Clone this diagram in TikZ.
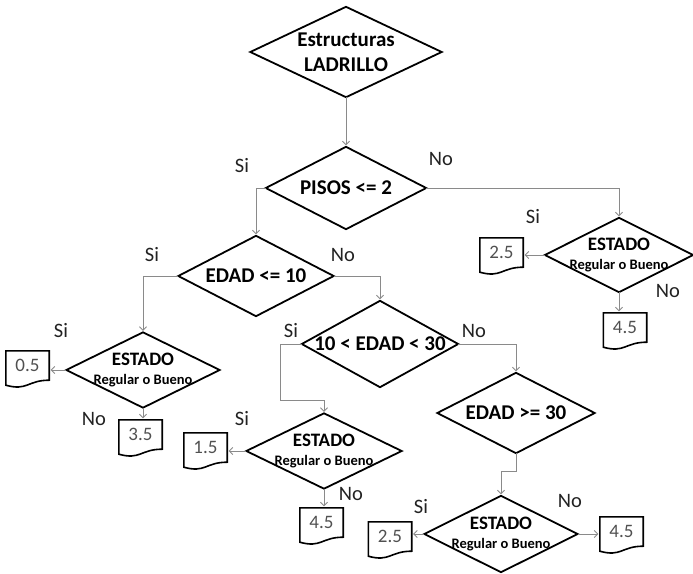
\documentclass[tikz,border=0pt]{standalone}
\usepackage{fontspec}
\setmainfont{Carlito}
\usetikzlibrary{arrows.meta,calc}
\definecolor{conncol}{HTML}{8A8A8A}
\definecolor{labcol}{HTML}{222222}
\definecolor{digcol}{HTML}{505050}
\begin{document}
\begin{tikzpicture}[x=1pt,y=-1pt,
  dia/.style={rectangle,inner sep=0pt,align=center,text=black},
  diaedge/.style={draw=black,line width=1.8pt,line join=miter},
  maintxt/.style={font=\fontsize{21}{24}\selectfont\bfseries},
  conn/.style={draw=conncol,line width=0.9pt,-{Straight Barb[length=3.5pt,width=7pt]},shorten >=1.5pt},
  lab/.style={font=\fontsize{20.5}{23}\selectfont,text=labcol},
  docb/.style={rectangle,minimum width=43pt,minimum height=29pt,inner sep=0pt,
    font=\fontsize{19}{20}\selectfont,text=digcol},
  docline/.style={draw=black,line width=1.6pt}]
\useasboundingbox (0,0) rectangle (693,573);
\newcommand{\estado}{\fontsize{19}{20}\selectfont\bfseries ESTADO\\[7pt]\fontsize{14.5}{15}\selectfont\bfseries Regular o Bueno}

% diamonds (invisible frames, drawn as diamonds below)
\node[dia,maintxt,minimum width=191pt,minimum height=90pt] (d0) at (346,52) {Estructuras\\[1pt]LADRILLO};
\node[dia,maintxt,minimum width=160pt,minimum height=82pt] (d1) at (346,188) {PISOS <= 2};
\node[dia,maintxt,minimum width=155pt,minimum height=80pt] (d2) at (256,276) {EDAD <= 10};
\node[dia,maintxt,minimum width=156pt,minimum height=86pt] (d3) at (380,344) {10 < EDAD < 30};
\node[dia,maintxt,minimum width=157pt,minimum height=80pt] (d4) at (516,413) {EDAD >= 30};
\node[dia,minimum width=153pt,minimum height=75pt] (e1) at (143,370) {\estado};
\node[dia,minimum width=155pt,minimum height=75pt] (e2) at (324,451) {\estado};
\node[dia,minimum width=148pt,minimum height=74pt] (e3) at (619,255) {\estado};
\node[dia,minimum width=153pt,minimum height=76pt] (e4) at (501,534) {\estado};
\foreach \n in {d0,d1,d2,d3,d4,e1,e2,e3,e4}{
  \draw[diaedge] (\n.north) -- (\n.east) -- (\n.south) -- (\n.west) -- cycle;
}

% document boxes
\node[docb] (b05) at (27.5,365.5) {0.5};
\node[docb] (b35) at (140.5,434.5) {3.5};
\node[docb] (b15) at (205.5,447.5) {1.5};
\node[docb] (b45a) at (321.5,522.5) {4.5};
\node[docb] (b25b) at (390,536.5) {2.5};
\node[docb] (b45c) at (621.5,531.5) {4.5};
\node[docb] (b25a) at (501.5,252.5) {2.5};
\node[docb] (b45b) at (625,327.5) {4.5};
\foreach \n in {b05,b35,b15,b45a,b25b,b45c,b25a,b45b}{
  \draw[docline] (\n.north west) -- (\n.north east) -- (\n.south east)
    .. controls (\n.south) and ($(\n.south)+(0,11)$) .. ($(\n.south west)+(0,5)$) -- cycle;
}

% helper coordinates
\coordinate (c1) at (280,400);
\coordinate (c2) at (516,471);

% connectors
\draw[conn] (d0.south) -- (d1.north);
\draw[conn] (d1.west) -| (d2.north);
\draw[conn] (d1.east) -| (e3.north);
\draw[conn] (d2.west) -| (e1.north);
\draw[conn] (d2.east) -| (d3.north);
\draw[conn] (d3.west) -| (c1) -| (e2.north);
\draw[conn] (d3.east) -| (d4.north);
\draw[conn] (d4.south) |- (c2) -| (e4.north);
\draw[conn] (e1.west) -- (e1.west -| b05.east);
\draw[conn] (e1.south) -- (e1.south |- b35.north);
\draw[conn] (e2.west) -- (e2.west -| b15.east);
\draw[conn] (e2.south) -- (e2.south |- b45a.north);
\draw[conn] (e3.west) -- (e3.west -| b25a.east);
\draw[conn] (e3.south) -- (e3.south |- b45b.north);
\draw[conn] (e4.west) -- (e4.west -| b25b.east);
\draw[conn] (e4.east) -- (e4.east -| b45c.west);

% labels
\node[lab] (l1) at (242,166) {Si};
\node[lab] (l2) at (441,159) {No};
\node[lab] (l3) at (152,255) {Si};
\node[lab] (l4) at (343,255) {No};
\node[lab] (l5) at (61,331) {Si};
\node[lab] (l6) at (94,419) {No};
\node[lab] (l7) at (291,331) {Si};
\node[lab] (l8) at (474,331) {No};
\node[lab] (l9) at (242,419) {Si};
\node[lab] (l10) at (351,494) {No};
\node[lab] (l11) at (533,217) {Si};
\node[lab] (l12) at (668,291) {No};
\node[lab] (l13) at (421,507) {Si};
\node[lab] (l14) at (570,501) {No};
\end{tikzpicture}
\end{document}
